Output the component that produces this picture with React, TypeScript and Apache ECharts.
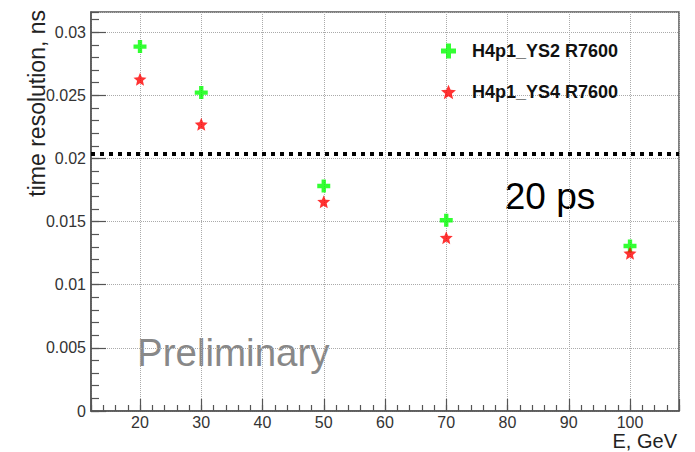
import React, { useEffect, useRef } from "react";
import * as echarts from "echarts";

const energies = [20, 30, 50, 70, 100];
const ys2Resolution = [0.02886, 0.02522, 0.01782, 0.01511, 0.01307];
const ys4Resolution = [0.02628, 0.02271, 0.01658, 0.01373, 0.01249];
const seriesNames = ["H4p1_YS2 R7600", "H4p1_YS4 R7600"];
const thresholdLevel = 0.02035;
const xRange = [12, 108];
const yRange = [0, 0.0316];

const FONT = '"Liberation Sans", Arial, Helvetica, sans-serif';
const CROSS = "path://M1,0H2V1H3V2H2V3H1V2H0V1H1Z";
const STAR =
  "path://M50,0L63.5,31.5L97.6,34.5L71.5,57L79.4,90.5L50,73L20.6,90.5L28.5,57L2.4,34.5L36.5,31.5Z";

const AX = "#555";

export default function App() {
  const ref = useRef<HTMLDivElement>(null);
  useEffect(() => {
    if (!ref.current) return;
    const chart = echarts.init(ref.current, undefined, { renderer: "svg" });
    const isMult = (v: number, step: number) =>
      Math.abs(v / step - Math.round(v / step)) < 1e-6;
    chart.setOption({
      animation: false,
      backgroundColor: "#fff",
      grid: {
        left: 91,
        right: 16,
        top: 12,
        bottom: 41,
        show: true,
        borderColor: AX,
        borderWidth: 1.5,
        containLabel: false,
      },
      xAxis: [
        {
          type: "value",
          min: xRange[0],
          max: xRange[1],
          minInterval: 10,
          maxInterval: 10,
          position: "bottom",
          axisLine: { show: true, lineStyle: { color: AX, width: 1.5 } },
          axisTick: { show: true, inside: true, length: 12, lineStyle: { color: AX, width: 1.2 } },
          axisLabel: {
            margin: 3,
            fontSize: 16,
            color: "#333",
            fontFamily: FONT,
            formatter: (v: number) => (isMult(v, 10) ? String(v) : ""),
          },
          splitLine: { show: true, lineStyle: { color: "#aaa", type: "dotted", width: 1 } },
        },
        {
          type: "value",
          min: xRange[0],
          max: xRange[1],
          interval: 2,
          position: "bottom",
          axisLine: { show: false },
          axisTick: { show: true, inside: true, length: 6, lineStyle: { color: AX, width: 1.2 } },
          axisLabel: { show: false },
          splitLine: { show: false },
        },
      ],
      yAxis: [
        {
          type: "value",
          min: yRange[0],
          max: yRange[1],
          interval: 0.005,
          position: "left",
          axisLine: { show: true, lineStyle: { color: AX, width: 1.5 } },
          axisTick: { show: true, inside: true, length: 15, lineStyle: { color: AX, width: 1.2 } },
          axisLabel: {
            margin: 5,
            fontSize: 16,
            color: "#333",
            fontFamily: FONT,
            showMaxLabel: false,
            formatter: (v: number) => (isMult(v, 0.005) ? String(+v.toFixed(4)) : ""),
          },
          splitLine: { show: true, lineStyle: { color: "#aaa", type: "dotted", width: 1 } },
        },
        {
          type: "value",
          min: yRange[0],
          max: yRange[1],
          interval: 0.001,
          position: "left",
          axisLine: { show: false },
          axisTick: { show: true, inside: true, length: 8, lineStyle: { color: AX, width: 1.2 } },
          axisLabel: { show: false },
          splitLine: { show: false },
        },
      ],
      legend: {
        orient: "vertical",
        left: 436,
        top: 35,
        itemWidth: 15,
        itemHeight: 15,
        itemGap: 19,
        data: seriesNames,
        textStyle: {
          fontSize: 18,
          fontWeight: "bold",
          color: "#111",
          fontFamily: FONT,
          padding: [0, 0, 0, 11],
          lineHeight: 22,
        },
      },
      series: [
        {
          name: seriesNames[0],
          type: "scatter",
          xAxisIndex: 0,
          yAxisIndex: 0,
          symbol: CROSS,
          symbolSize: 13,
          itemStyle: { color: "#00ff00" },
          data: energies.map((e, i) => [e, ys2Resolution[i]]),
          markLine: {
            silent: true,
            precision: 6,
            symbol: ["none", "none"],
            label: { show: false },
            lineStyle: { color: "#000", width: 4, type: [4, 5] },
            data: [{ yAxis: thresholdLevel }],
          },
        },
        {
          name: seriesNames[1],
          type: "scatter",
          xAxisIndex: 0,
          yAxisIndex: 0,
          symbol: STAR,
          symbolSize: 13,
          itemStyle: { color: "#ff0000" },
          data: energies.map((e, i) => [e, ys4Resolution[i]]),
        },
      ],
      graphic: [
        {
          type: "text",
          x: 37,
          y: 10,
          rotation: Math.PI / 2,
          style: {
            text: "time resolution, ns",
            font: `23px ${FONT}`,
            fill: "#222",
            align: "right",
            textAlign: "right",
            verticalAlign: "middle",
            textVerticalAlign: "middle",
          },
        },
        {
          type: "text",
          x: 677,
          y: 441,
          style: {
            text: "E, GeV",
            font: `20px ${FONT}`,
            fill: "#222",
            align: "right",
            textAlign: "right",
            verticalAlign: "middle",
            textVerticalAlign: "middle",
          },
        },
        {
          type: "text",
          x: 550,
          y: 196,
          style: {
            text: "20 ps",
            font: `37px ${FONT}`,
            fill: "#000",
            align: "center",
            textAlign: "center",
            verticalAlign: "middle",
            textVerticalAlign: "middle",
          },
        },
        {
          type: "text",
          x: 137,
          y: 352,
          style: {
            text: "Preliminary",
            font: `38.5px ${FONT}`,
            fill: "#888",
            align: "left",
            textAlign: "left",
            verticalAlign: "middle",
            textVerticalAlign: "middle",
          },
        },
      ],
    });
    return () => chart.dispose();
  }, []);
  return (
    <div
      ref={ref}
      style={{ position: "absolute", left: 0, top: 0, width: 695, height: 452, background: "#fff" }}
    />
  );
}
